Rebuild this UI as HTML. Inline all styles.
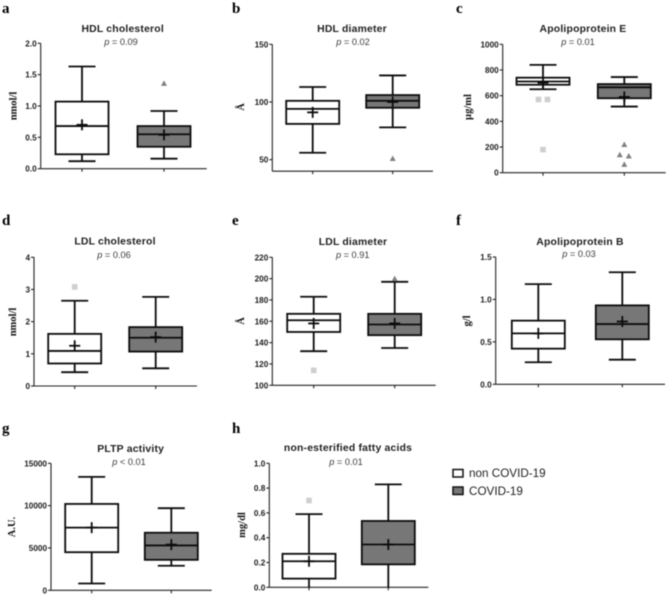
<!DOCTYPE html>
<html lang="en">
<head>
<meta charset="utf-8">
<title>Lipoprotein box plots: non COVID-19 vs COVID-19</title>
<style>
html,body{margin:0;padding:0;background:#fff;width:667px;height:595px;overflow:hidden}
svg{display:block;filter:blur(0.5px)}
text{font-family:"Liberation Sans",sans-serif}
.title{font-size:10.4px;letter-spacing:.2px;font-weight:bold;fill:#222;text-anchor:middle}
.pval{font-size:9.2px;fill:#3a3a3a;text-anchor:middle}
.tick{font-size:8.2px;font-weight:bold;fill:#1c1c1c;text-anchor:end}
.ylab{font-family:"Liberation Serif",serif;font-size:10.5px;font-weight:bold;fill:#111;text-anchor:middle}
.letter{font-family:"Liberation Serif",serif;font-size:15px;font-weight:bold;fill:#000}
.legend{font-size:11.7px;fill:#222}
</style>
</head>
<body>
<svg id="chart" xmlns="http://www.w3.org/2000/svg" width="667" height="595" viewBox="0 0 667 595">
  <g>
    <rect x="453" y="469.5" width="10" height="7.5" fill="#fff" stroke="#111" stroke-width="1.5"/>
    <text class="legend" x="469" y="477">non COVID-19</text>
    <rect x="453" y="487" width="10" height="7.5" fill="#777" stroke="#111" stroke-width="1.5"/>
    <text class="legend" x="469" y="495">COVID-19</text>
  </g>
</svg>
<script>
// ---- chart data (one entry per panel; inner pairs are [non COVID-19, COVID-19]) ----
const panelLetters = ['a', 'b', 'c', 'd', 'e', 'f', 'g', 'h'];
const panelTitles = ['HDL cholesterol', 'HDL diameter', 'Apolipoprotein E', 'LDL cholesterol', 'LDL diameter', 'Apolipoprotein B', 'PLTP activity', 'non-esterified fatty acids'];
const pValues = ['= 0.09', '= 0.02', '= 0.01', '= 0.06', '= 0.91', '= 0.03', '< 0.01', '= 0.01'];
const yUnits = ['nmol/l', 'Å', 'µg/ml', 'nmol/l', 'Å', 'g/l', 'A.U.', 'mg/dl'];
const yTickLabels = [
  ['0.0', '0.5', '1.0', '1.5', '2.0'],
  ['50', '100', '150'],
  ['0', '200', '400', '600', '800', '1000'],
  ['0', '1', '2', '3', '4'],
  ['100', '120', '140', '160', '180', '200', '220'],
  ['0.0', '0.5', '1.0', '1.5'],
  ['0', '5000', '10000', '15000'],
  ['0.0', '0.2', '0.4', '0.6', '0.8', '1.0']
];
const axisMin = [0, 40, 0, 0, 100, 0, 0, 0];
const axisMax = [2, 150, 1000, 4, 220, 1.5, 15000, 1];
const whiskerHigh = [[1.63, 0.92], [113, 123], [840, 745], [2.65, 2.77], [183, 197], [1.18, 1.32], [13400, 9700], [0.59, 0.83]];
const quartile3 = [[1.07, 0.68], [101, 106], [740, 690], [1.62, 1.83], [167, 167], [0.75, 0.93], [10200, 6800], [0.27, 0.535]];
const medians = [[0.68, 0.55], [94, 101], [710, 665], [1.09, 1.5], [161, 157], [0.6, 0.71], [7400, 5300], [0.21, 0.345]];
const quartile1 = [[0.23, 0.35], [81, 95], [685, 580], [0.7, 1.07], [150, 147], [0.42, 0.53], [4500, 3600], [0.07, 0.185]];
const whiskerLow = [[0.12, 0.16], [56, 78], [650, 515], [0.43, 0.55], [132, 135], [0.26, 0.29], [800, 2900], [0, 0]];
const means = [[0.7, 0.54], [91, 100], [700, 590], [1.25, 1.52], [158, 158], [0.6, 0.74], [7400, 5400], [0.21, 0.345]];
const outliers = [
  [[], [1.36]],
  [[], [51]],
  [[570, 570, 180], [220, 140, 130, 65]],
  [[3.08], []],
  [[114], [200]],
  [[], []],
  [[], []],
  [[0.7], []]
];
const seriesNames = ['non-covid', 'covid'];

// ---- page layout (pixel frame of each panel, independent of the data) ----
const frames = [
  {axisX: 40.7, top: 43.3, bottom: 168.7, right: 206.7, cats: [82, 164], titleX: 122.7, titleY: 32, pX: 121, pY: 45, unitX: 16.7, unitY: 106, letterX: 2, letterY: 13},
  {axisX: 272.3, top: 44.3, bottom: 171.2, right: 433, cats: [312.7, 392.7], titleX: 352, titleY: 32, pX: 353, pY: 45, unitX: 244, unitY: 107, letterX: 232, letterY: 13},
  {axisX: 502.7, top: 44.3, bottom: 172.7, right: 665.7, cats: [543, 624.3], titleX: 583, titleY: 32, pX: 578, pY: 45, unitX: 471, unitY: 107, letterX: 456, letterY: 13},
  {axisX: 34, top: 257.3, bottom: 386, right: 197, cats: [74.7, 155.7], titleX: 115, titleY: 244.7, pX: 114, pY: 258, unitX: 16, unitY: 322, letterX: 2, letterY: 225},
  {axisX: 272.3, top: 257.3, bottom: 385.3, right: 435.7, cats: [313.7, 394.7], titleX: 353, titleY: 245, pX: 352.7, pY: 258, unitX: 244, unitY: 321, letterX: 232, letterY: 225},
  {axisX: 495.7, top: 257, bottom: 384.3, right: 665, cats: [538.3, 622.3], titleX: 580, titleY: 245, pX: 579, pY: 257, unitX: 470, unitY: 321, letterX: 456, letterY: 225},
  {axisX: 51, top: 463.3, bottom: 590.3, right: 211.7, cats: [91.7, 171.3], titleX: 130.7, titleY: 452, pX: 129, pY: 465, unitX: 15, unitY: 527, letterX: 2, letterY: 433},
  {axisX: 269.3, top: 463.3, bottom: 587.3, right: 428.3, cats: [309, 388.3], titleX: 348, titleY: 451, pX: 346, pY: 465, unitX: 245, unitY: 525, letterX: 232, letterY: 433}
];
const BOX_HALF = 26.5, CAP_HALF = 13.5, STROKE = 1.8, INK = '#0c0c0c';
const SVG_NS = 'http://www.w3.org/2000/svg';
const chart = document.getElementById('chart');

function make(parent, tag, attrs, textValue) {
  const el = document.createElementNS(SVG_NS, tag);
  for (const key in attrs) el.setAttribute(key, attrs[key]);
  if (textValue !== undefined) el.textContent = textValue;
  parent.appendChild(el);
  return el;
}
function yScale(i, value) {
  const f = frames[i];
  return f.bottom - (value - axisMin[i]) / (axisMax[i] - axisMin[i]) * (f.bottom - f.top);
}
// Spreads outliers that would overlap side by side, as the plotting software does.
function swarm(i, values) {
  const sorted = values.slice().sort((a, b) => b - a);
  const placed = [];
  let k = 0;
  while (k < sorted.length) {
    const close = k + 1 < sorted.length && Math.abs(yScale(i, sorted[k]) - yScale(i, sorted[k + 1])) < 5;
    if (close) {
      placed.push({value: sorted[k], dx: -4.5});
      placed.push({value: sorted[k + 1], dx: 4.5});
      k += 2;
    } else {
      placed.push({value: sorted[k], dx: 0});
      k += 1;
    }
  }
  return placed;
}

panelTitles.forEach((title, i) => {
  const f = frames[i];
  const panel = make(chart, 'g', {});
  
  

  const letter = make(panel, 'text', {class: 'letter', x: f.letterX, y: f.letterY}, panelLetters[i]);
  
  

  const titleEl = make(panel, 'text', {class: 'title', x: f.titleX, y: f.titleY}, title);
  
  

  const pEl = make(panel, 'text', {class: 'pval', x: f.pX, y: f.pY});
  
  
  make(pEl, 'tspan', {'font-style': 'italic'}, 'p');
  make(pEl, 'tspan', {}, ' ' + pValues[i]);

  const unit = make(panel, 'text', {class: 'ylab', x: f.unitX, y: f.unitY, transform: 'rotate(-90 ' + f.unitX + ' ' + f.unitY + ')'}, yUnits[i]);
  
  

  const yAxis = make(panel, 'line', {x1: f.axisX, x2: f.axisX, y1: f.top, y2: f.bottom, stroke: '#222', 'stroke-width': 1.1});
  
  

  const xAxis = make(panel, 'line', {x1: f.axisX, x2: f.right, y1: f.bottom, y2: f.bottom, stroke: '#222', 'stroke-width': 1.1});
  
  

  yTickLabels[i].forEach(label => {
    const y = yScale(i, Number(label));
    const tick = make(panel, 'line', {x1: f.axisX - 3, x2: f.axisX, y1: y, y2: y, stroke: '#222', 'stroke-width': 1.1});
    
    
    const tickText = make(panel, 'text', {class: 'tick', x: f.axisX - 4, y: y + 3}, label);
    
    
  });

  f.cats.forEach((cx, s) => {
    const series = make(panel, 'g', {});
    
    

    const xTick = make(series, 'line', {x1: cx, x2: cx, y1: f.bottom, y2: f.bottom + 3, stroke: '#222', 'stroke-width': 1.1});
    
    

    const hi = yScale(i, whiskerHigh[i][s]);
    const lo = yScale(i, whiskerLow[i][s]);
    const q3 = yScale(i, quartile3[i][s]);
    const q1 = yScale(i, quartile1[i][s]);
    const med = yScale(i, medians[i][s]);
    const avg = yScale(i, means[i][s]);

    const stem = make(series, 'line', {x1: cx, x2: cx, y1: hi, y2: lo, stroke: INK, 'stroke-width': STROKE});
    
    

    const capHigh = make(series, 'line', {x1: cx - CAP_HALF, x2: cx + CAP_HALF, y1: hi, y2: hi, stroke: INK, 'stroke-width': STROKE});
    
    

    // A lower cap sitting exactly on the x axis merges into it, so it is not drawn.
    if (whiskerLow[i][s] > axisMin[i]) {
      const capLow = make(series, 'line', {x1: cx - CAP_HALF, x2: cx + CAP_HALF, y1: lo, y2: lo, stroke: INK, 'stroke-width': STROKE});
      
      
    }

    const box = make(series, 'rect', {x: cx - BOX_HALF, y: q3, width: BOX_HALF * 2, height: q1 - q3, fill: s ? '#777' : '#fff', stroke: INK, 'stroke-width': STROKE});
    
    

    const medLine = make(series, 'line', {x1: cx - BOX_HALF, x2: cx + BOX_HALF, y1: med, y2: med, stroke: INK, 'stroke-width': STROKE});
    
    

    const meanH = make(series, 'line', {x1: cx - 5.5, x2: cx + 5.5, y1: avg, y2: avg, stroke: INK, 'stroke-width': STROKE});
    
    

    const meanV = make(series, 'line', {x1: cx, x2: cx, y1: avg - 5.5, y2: avg + 5.5, stroke: INK, 'stroke-width': STROKE});
    
    

    swarm(i, outliers[i][s]).forEach(pt => {
      const x = cx + pt.dx;
      const y = yScale(i, pt.value);
      let mark;
      if (s === 0) {
        mark = make(series, 'rect', {x: x - 2.8, y: y - 2.8, width: 5.6, height: 5.6, fill: '#cfcfcf'});
      } else {
        mark = make(series, 'polygon', {points: (x - 3) + ',' + (y + 2.5) + ' ' + (x + 3) + ',' + (y + 2.5) + ' ' + x + ',' + (y - 3), fill: '#808080'});
      }
      
      
    });
  });
});
</script>
</body>
</html>
